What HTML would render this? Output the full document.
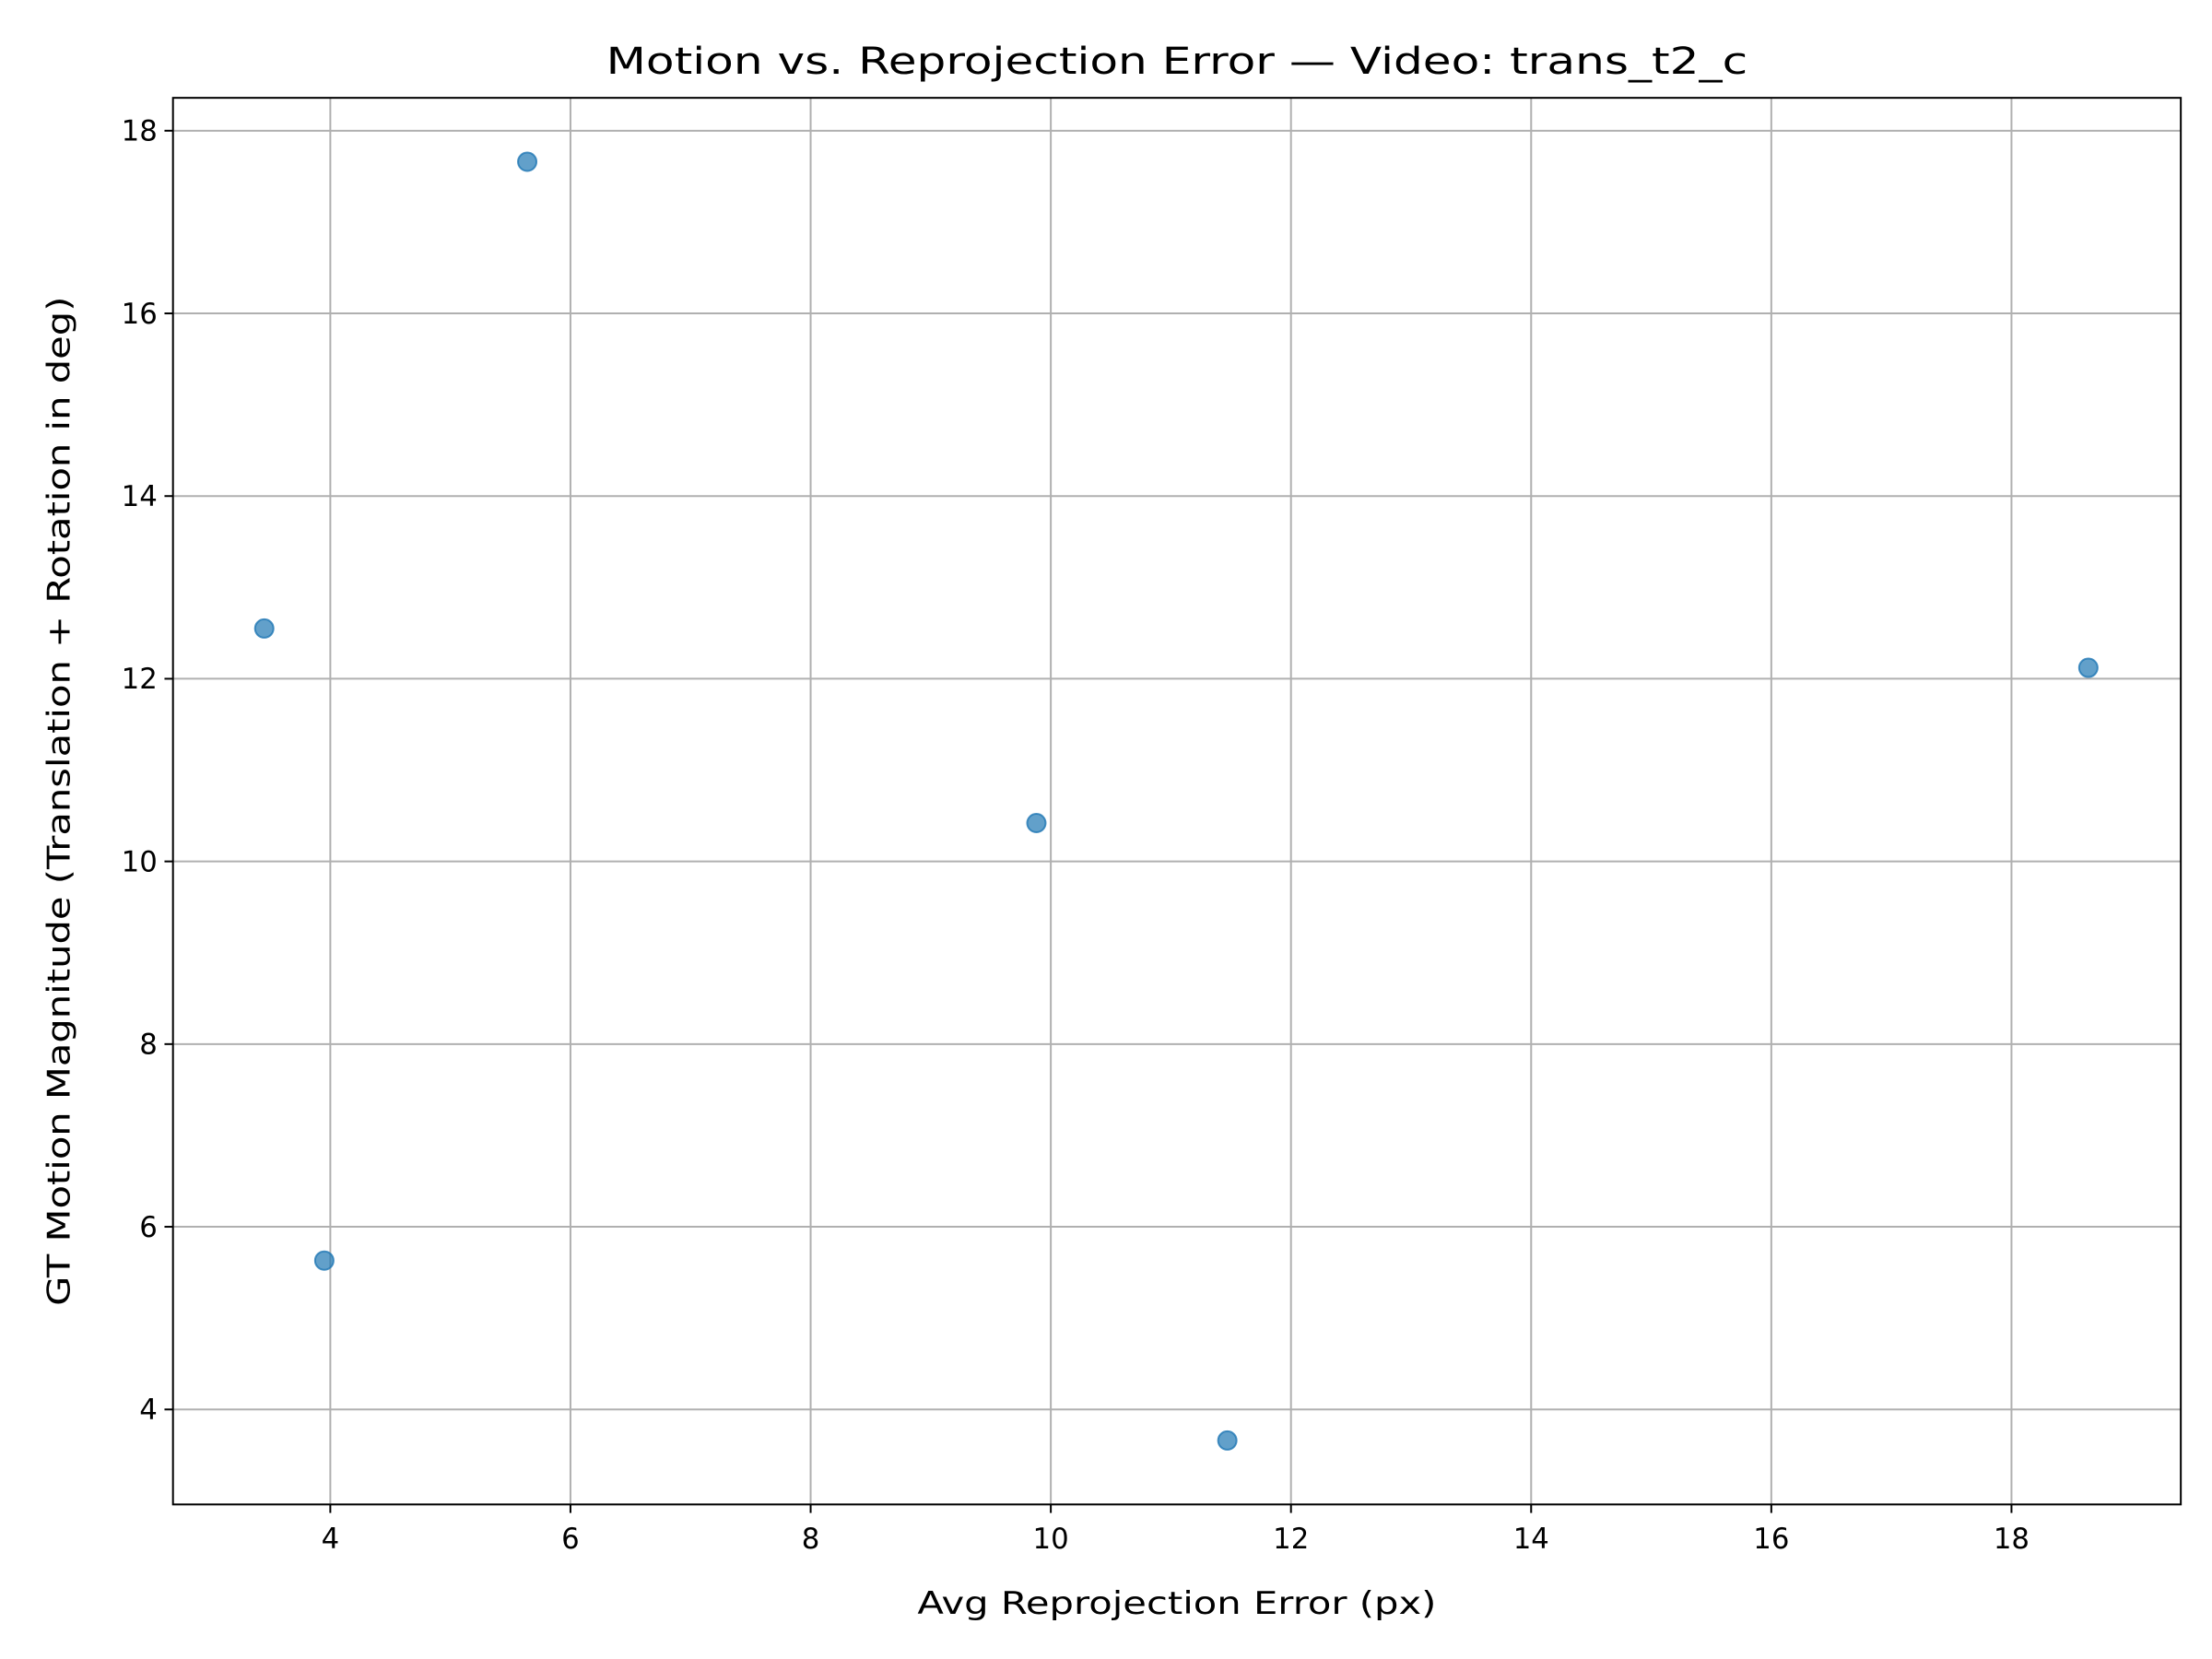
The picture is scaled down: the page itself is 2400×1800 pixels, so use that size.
<!DOCTYPE html>
<html><head><meta charset="utf-8"><style>
html,body{margin:0;padding:0;background:#fff;}
svg{display:block;font-family:"DejaVu Sans","Liberation Sans",sans-serif;}
</style></head><body>
<svg id="chart" width="2400" height="1800" viewBox="0 0 1560 1170" xmlns="http://www.w3.org/2000/svg">
<rect width="1560" height="1170" fill="#fff"/>
<g id="grid"></g>
<g id="points"></g>
<rect x="122" y="69" width="1416" height="992" fill="none" stroke="#000" stroke-width="1.3"/>
<g id="ticks"></g>
<text x="830" y="52" text-anchor="middle" font-size="26" textLength="805" lengthAdjust="spacingAndGlyphs">Motion vs. Reprojection Error — Video: trans_t2_c</text>
<text x="830" y="1138" text-anchor="middle" font-size="22" textLength="366" lengthAdjust="spacingAndGlyphs">Avg Reprojection Error (px)</text>
<text transform="translate(49,565) rotate(-90)" text-anchor="middle" font-size="22" textLength="712" lengthAdjust="spacingAndGlyphs">GT Motion Magnitude (Translation + Rotation in deg)</text>
</svg>
<script>
const xValues = [3.45, 5.64, 3.95, 9.88, 11.47, 18.64];
const yValues = [12.55, 17.66, 5.63, 10.42, 3.66, 12.12];
const xTicks = [4, 6, 8, 10, 12, 14, 16, 18];
const yTicks = [4, 6, 8, 10, 12, 14, 16, 18];

const L = 122, R = 1538, T = 69, B = 1061;
const xMin = 2.69, xMax = 19.41, yMin = 2.96, yMax = 18.36;
const NS = 'http://www.w3.org/2000/svg';
function xs(v){ return L + (v - xMin) / (xMax - xMin) * (R - L); }
function ys(v){ return B - (v - yMin) / (yMax - yMin) * (B - T); }
function mk(tag, attrs){ const e = document.createElementNS(NS, tag); for (const k in attrs) e.setAttribute(k, attrs[k]); return e; }
const grid = document.getElementById('grid'), ticks = document.getElementById('ticks'), pts = document.getElementById('points');

xTicks.forEach(t => {
  const x = xs(t);
  const g = mk('line', {x1:x, x2:x, y1:T, y2:B, stroke:'#b0b0b0', 'stroke-width':1.3});
  
  
  grid.appendChild(g);
  const tk = mk('line', {x1:x, x2:x, y1:B, y2:B+6, stroke:'#000', 'stroke-width':1.3});
  
  
  ticks.appendChild(tk);
  const lb = mk('text', {x:x, y:B+31, 'text-anchor':'middle', 'font-size':20});
  lb.textContent = t;
  
  
  ticks.appendChild(lb);
});
yTicks.forEach(t => {
  const y = ys(t);
  const g = mk('line', {x1:L, x2:R, y1:y, y2:y, stroke:'#b0b0b0', 'stroke-width':1.3});
  
  
  grid.appendChild(g);
  const tk = mk('line', {x1:L-6, x2:L, y1:y, y2:y, stroke:'#000', 'stroke-width':1.3});
  
  
  ticks.appendChild(tk);
  const lb = mk('text', {x:L-11, y:y+7, 'text-anchor':'end', 'font-size':20});
  lb.textContent = t;
  
  
  ticks.appendChild(lb);
});
xValues.forEach((v, i) => {
  const c = mk('circle', {cx:xs(v), cy:ys(yValues[i]), r:6.5, fill:'#1f77b4', 'fill-opacity':0.7, stroke:'#1f77b4', 'stroke-opacity':0.8, 'stroke-width':1.3});
  
  
  pts.appendChild(c);
});
</script>
</body></html>
